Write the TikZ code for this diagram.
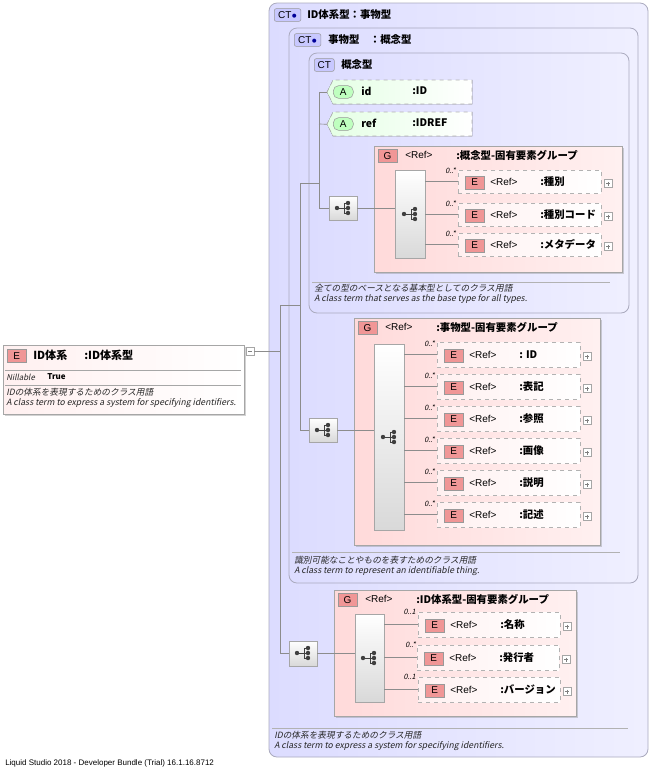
\documentclass[tikz,border=0pt]{standalone}
\usepackage{fontspec}
\setmainfont{Noto Sans CJK JP}
\newfontfamily\docf[FakeSlant=0.2]{Noto Sans CJK JP}
\newfontfamily\latf{Liberation Sans}
\usetikzlibrary{shadows}
\definecolor{ctfill}{RGB}{220,220,255}
\definecolor{ctline}{RGB}{170,170,190}
\definecolor{gfill}{RGB}{255,218,218}
\definecolor{efill}{RGB}{255,240,240}
\definecolor{afill}{RGB}{228,255,228}
\definecolor{badgeE}{RGB}{240,150,150}
\definecolor{badgeCT}{RGB}{200,200,255}
\definecolor{conn}{RGB}{140,140,140}
\tikzset{
 px/.style={x=0.75pt,y=-0.75pt},
 ctbox/.style={draw=ctline,rounded corners=6pt,left color=ctfill,right color=ctfill!45,line width=0.6pt},
 gbox/.style={draw=gray!70,left color=gfill,right color=gfill!40,line width=0.6pt,drop shadow={opacity=0.35,shadow xshift=1.2pt,shadow yshift=-1.2pt}},
 ebox/.style={draw=gray!60,dashed,left color=efill,right color=white,line width=0.5pt},
 lbox/.style={draw=gray!70,left color=efill,right color=white,line width=0.6pt,drop shadow={opacity=0.35,shadow xshift=1.2pt,shadow yshift=-1.2pt}},
 seqbox/.style={draw=gray!70,top color=white,bottom color=gray!30,line width=0.5pt,inner sep=0pt,outer sep=0pt,drop shadow={opacity=0.3,shadow xshift=0.8pt,shadow yshift=-0.8pt}},
 badge/.style={draw=gray!80,rounded corners=1.5pt,inner sep=0pt,minimum height=9.5pt,font=\latf\fontsize{7.5}{8}\selectfont},
 hdr/.style={anchor=west,inner sep=0pt,font=\bfseries\fontsize{7.8}{8}\selectfont},
 lbl/.style={anchor=west,inner sep=0pt,font=\latf\fontsize{7.5}{8}\selectfont},
 doc/.style={anchor=west,inner sep=0pt,font=\docf\fontsize{6.5}{7}\selectfont,text=black!85},
 card/.style={anchor=east,inner sep=0pt,font=\docf\fontsize{5.5}{6}\selectfont},
 cn/.style={draw=conn,line width=0.5pt},
 plusbox/.style={draw=gray!70,fill=white,minimum size=6pt,inner sep=0pt,line width=0.4pt},
}
\newcommand\bx[6]{\node[#6,anchor=north west,inner sep=0pt,outer sep=0pt,minimum width={(#4-#2)*0.75pt},minimum height={(#5-#3)*0.75pt}] (#1) at (#2,#3) {};}
\newcommand\seqsym[2]{%
 \draw[black!75,line width=0.7pt] ({#1-6},#2) -- ({#1+1},#2) ({#1+1},{#2-5}) -- ({#1+1},{#2+5}) ({#1+1},{#2-5}) -- ({#1+5},{#2-5}) ({#1+1},{#2+5}) -- ({#1+5},{#2+5}) ({#1+1},#2)--({#1+5},#2);
 \fill[black!75] ({#1-6},#2) circle (2.2) ({#1+5},{#2-5}) circle (2.2) ({#1+5},#2) circle (2.2) ({#1+5},{#2+5}) circle (2.2);}
\newcommand\elem[7]{%
 \bx{#1}{#2}{#3}{#4}{#5}{ebox}
 \node[badge,fill=badgeE,minimum width=14pt,anchor=west,rounded corners=0pt] at ({#2+7},{(#3+#5)/2+1}) {E};
 \node[lbl] at ({#2+32},{(#3+#5)/2}) {<Ref>};
 \node[hdr] at ({#2+#7},{(#3+#5)/2}) {#6};
 \node[plusbox] (#1p) at ({#4+7},{(#3+#5)/2+2}) {};
 \draw[gray,line width=0.4pt] ({#4+5},{(#3+#5)/2+2})--({#4+9},{(#3+#5)/2+2}) ({#4+7},{(#3+#5)/2})--({#4+7},{(#3+#5)/2+4});
}
\begin{document}
\begin{tikzpicture}[px]
\useasboundingbox[fill=white] (0,0) rectangle (650,769);
\bx{ct1}{269}{3}{648}{757}{ctbox}
\bx{ct2}{289}{28}{638}{583}{ctbox}
\bx{ct3}{309}{53}{629}{313}{ctbox}
\node[badge,fill=badgeCT,minimum width=20pt,anchor=west] at (274,15) {CT\textcolor{blue!60!black}{$\bullet$}};
\node[hdr] at (307,15) {ID体系型：事物型};
\node[badge,fill=badgeCT,minimum width=20pt,anchor=west] at (294,40) {CT\textcolor{blue!60!black}{$\bullet$}};
\node[hdr] at (328,40) {事物型　：概念型};
\node[badge,fill=badgeCT,minimum width=15pt,anchor=west] at (314,65) {CT};
\node[hdr] at (341,65) {概念型};
\foreach \n/\y/\a/\b in {aid/80/id/:ID,aref/112/ref/:IDREF}{
 \node[inner sep=0pt,minimum width=145*0.75pt,minimum height=24*0.75pt,anchor=north west] (\n) at (327,\y) {};
 \fill[left color=afill,right color=white] (327,\y+12) -- (333,\y) -- (472,\y) -- (472,\y+24) -- (333,\y+24) -- cycle;
 \draw[gray!60,dashed,line width=0.5pt] (327,\y+12) -- (333,\y) -- (472,\y) -- (472,\y+24) -- (333,\y+24) -- cycle;
 \node[badge,fill=green!25,rounded corners=4pt,minimum width=15pt,anchor=west] at (333,\y+12) {A};
 \node[lbl,font=\bfseries\fontsize{7.8}{8}\selectfont] at (361,\y+11) {\a};
 \node[hdr] at (412,\y+11) {\b};
}
\bx{g1}{374}{146}{622}{272}{gbox}
\node[badge,fill=badgeE,minimum width=14pt,anchor=west,rounded corners=0pt] at (378,156) {G};
\node[lbl] at (405,155) {<Ref>};
\node[hdr] at (456,155) {:概念型-固有要素グループ};
\bx{b1}{395}{170}{425}{258}{seqbox}
\seqsym{410}{214}
\elem{e11}{458}{170}{601}{193}{:種別}{82}{}
\elem{e12}{458}{203}{601}{226}{:種別コード}{82}{}
\elem{e13}{458}{233}{601}{256}{:メタデータ}{82}{}
\foreach \e/\y in {e11/171,e12/204,e13/234}{\node[card] at (456,\y) {0..*};
 \draw[cn] (b1.east |- \e.west) -- (\e.west);}
\bx{s1}{329}{196}{357}{220}{seqbox}
\seqsym{343}{208}
\draw[cn] (s1.east) -- (b1.west |- s1.east);
\draw[cn] (aid.west) -| (319,208) -- (s1.west);
\draw[cn] (aref.west) -- (319,124);
\draw[gray!60,line width=0.4pt] (312,282) -- (610,282);
\node[doc] at (314,288) {全ての型のベースとなる基本型としてのクラス用語};
\node[doc] at (314,299) {A class term that serves as the base type for all types.};
\bx{g2}{354}{318}{600}{545}{gbox}
\node[badge,fill=badgeE,minimum width=14pt,anchor=west,rounded corners=0pt] at (358,328) {G};
\node[lbl] at (385,327) {<Ref>};
\node[hdr] at (436,327) {:事物型-固有要素グループ};
\bx{b2}{374}{344}{404}{530}{seqbox}
\seqsym{389}{437}
\elem{e21}{437}{342}{580}{367}{: ID}{82}{}
\elem{e22}{437}{374}{580}{399}{:表記}{82}{}
\elem{e23}{437}{406}{580}{431}{:参照}{82}{}
\elem{e24}{437}{438}{580}{463}{:画像}{82}{}
\elem{e25}{437}{470}{580}{495}{:説明}{82}{}
\elem{e26}{437}{502}{580}{527}{:記述}{82}{}
\foreach \e/\y in {e21/344,e22/376,e23/408,e24/440,e25/472,e26/504}{\node[card] at (435,\y) {0..*};
 \draw[cn] (b2.east |- \e.west) -- (\e.west);}
\bx{s2}{309}{418}{337}{442}{seqbox}
\seqsym{323}{430}
\draw[cn] (s2.east) -- (b2.west |- s2.east);
\draw[cn] (s2.west) -- (300,430) -- (300,183) -- (319,183);
\draw[gray!60,line width=0.4pt] (292,552) -- (620,552);
\node[doc] at (294,560) {識別可能なことやものを表すためのクラス用語};
\node[doc] at (294,571) {A class term to represent an identifiable thing.};
\bx{g3}{334}{590}{576}{716}{gbox}
\node[badge,fill=badgeE,minimum width=14pt,anchor=west,rounded corners=0pt] at (338,600) {G};
\node[lbl] at (365,599) {<Ref>};
\node[hdr] at (416,599) {:ID体系型-固有要素グループ};
\bx{b3}{355}{614}{384}{702}{seqbox}
\seqsym{369}{658}
\elem{e31}{418}{612}{560}{637}{:名称}{82}{}
\elem{e32}{417}{645}{559}{670}{:発行者}{82}{}
\elem{e33}{418}{677}{560}{702}{:バージョン}{82}{}
\foreach \e/\y/\c in {e31/612/0..1,e32/645/0..*,e33/677/0..1}{\node[card] at (416,\y) {\c};
 \draw[cn] (b3.east |- \e.west) -- (\e.west);}
\bx{s3}{289}{641}{317}{666}{seqbox}
\seqsym{303}{653}
\draw[cn] (s3.east) -- (b3.west |- s3.east);
\draw[cn] (s3.west) -- (280,653.5) -- (280,305) -- (300,305);
\draw[gray!60,line width=0.4pt] (272,728) -- (628,728);
\node[doc] at (274,735) {IDの体系を表現するためのクラス用語};
\node[doc] at (274,746) {A class term to express a system for specifying identifiers.};
\bx{le}{3}{345}{244}{414}{lbox}
\node[badge,fill=badgeE,minimum width=14pt,anchor=west,rounded corners=0pt] at (7,356) {E};
\node[hdr,font=\bfseries\fontsize{8.3}{9}\selectfont] at (33,355) {ID体系};
\node[hdr,font=\bfseries\fontsize{8.3}{9}\selectfont] at (84,355) {:ID体系型};
\draw[gray!70,line width=0.5pt] (5,370) -- (241,370) (5,385) -- (241,385);
\node[doc,font=\docf\fontsize{6}{6}\selectfont] at (6,377) {Nillable};
\node[hdr,font=\bfseries\fontsize{6}{6}\selectfont] at (47,377) {True};
\node[doc] at (6,392) {IDの体系を表現するためのクラス用語};
\node[doc] at (6,403) {A class term to express a system for specifying identifiers.};
\node[plusbox] (lm) at (250,351) {};
\draw[gray,line width=0.4pt] (248,351)--(252,351);
\draw[cn] (lm.east) -- (280,351);
\node[lbl,font=\latf\fontsize{6}{7}\selectfont] at (5,763) {Liquid Studio 2018 - Developer Bundle (Trial) 16.1.16.8712};
\end{tikzpicture}
\end{document}
